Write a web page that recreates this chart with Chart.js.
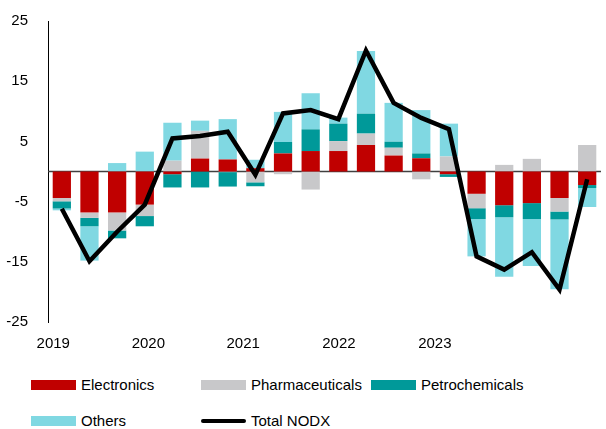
<!DOCTYPE html>
<html>
<head>
<meta charset="utf-8">
<script src="https://cdn.jsdelivr.net/npm/chart.js@4/dist/chart.umd.min.js"></script>
<style>
    body { margin: 0; background: #fff; font-family: "Liberation Sans", Arial, sans-serif; overflow: hidden; }
    #wrap { position: relative; width: 606px; height: 429px; overflow: hidden; }
    #box { position: absolute; left: 0; top: -8px; width: 606px; height: 368px; }
    .leg { position: absolute; font-size: 15px; color: #000; line-height: 18px; white-space: nowrap; }
    .leg i { position: absolute; left: 0; top: 4px; width: 45px; height: 10px; }
    .leg span { position: absolute; left: 50px; top: 0; }
</style>
</head>
<body>
<div id="wrap">
    <div id="box"><canvas id="chartNodx"></canvas></div>
    <div id="legenda"></div>
</div>
<script>
var quarters = ['2019Q1', '2019Q2', '2019Q3', '2019Q4', '2020Q1', '2020Q2', '2020Q3', '2020Q4',
    '2021Q1', '2021Q2', '2021Q3', '2021Q4', '2022Q1', '2022Q2', '2022Q3', '2022Q4',
    '2023Q1', '2023Q2', '2023Q3', '2023Q4'];
var electronics = [-4.4, -6.8, -6.8, -5.5, -0.45, 2.15, 2.0, 0.55, 3.0, 3.4, 3.4, 4.4, 2.65, 2.2, -0.45, -3.7, -5.6, -5.25, -4.4, -2.25];
var pharmaceuticals = [-0.55, -0.9, -3.0, -1.9, 1.8, 4.6, -0.1, -1.8, -0.45, -3.0, 1.65, 1.9, 1.3, -1.3, 2.5, -2.4, 1.1, 2.1, -2.25, 4.4];
var petrochemicals = [-1.2, -1.4, -1.3, -1.7, -2.2, -2.65, -2.4, -0.65, 1.9, 3.6, 2.9, 3.3, 1.0, 0.8, -0.45, -1.8, -2.0, -2.65, -1.3, -0.5];
var others = [-0.3, -5.7, 1.4, 3.3, 6.3, 1.7, 6.7, 1.4, 5.0, 6.0, 1.0, 10.4, 6.45, 7.2, 5.45, -6.2, -9.9, -7.8, -11.6, -3.15];
var totalNodx = [-6.2, -14.9, -10.0, -5.5, 5.5, 5.9, 6.6, -0.55, 9.65, 10.2, 8.7, 20.1, 11.4, 8.9, 7.05, -14.1, -16.3, -13.4, -19.6, -1.3];
var yearLabels = ['2019', '2020', '2021', '2022', '2023'];
var yearTickPos = [-0.31, 3.13, 6.56, 10.02, 13.49];
var yTicks = [-25, 25, 10];

var cores = {
    electronics: '#c00000',
    pharma: '#c8c8ca',
    petro: '#009999',
    others: '#80d8e2',
    total: '#000000'
};

// linha do zero
var zeroLine = {
    id: 'zeroLine',
    beforeDatasetsDraw: function (chart) {
        var y = chart.scales.y.getPixelForValue(0);
        var ctx = chart.ctx;
        ctx.save();
        ctx.strokeStyle = '#404040';
        ctx.lineWidth = 1.5;
        ctx.beginPath();
        ctx.moveTo(chart.chartArea.left, y);
        ctx.lineTo(chart.chartArea.right, y);
        ctx.stroke();
        ctx.restore();
    }
};

function barra(label, data, cor) {
    return {
        type: 'bar',
        label: label,
        data: data,
        backgroundColor: cor,
        borderWidth: 0,
        barPercentage: 0.66,
        categoryPercentage: 1,
        order: 1
    };
}

Chart.defaults.font.family = '"Liberation Sans", Arial, sans-serif';
Chart.defaults.font.size = 15;
Chart.defaults.color = '#000';

new Chart(document.getElementById('chartNodx'), {
    type: 'bar',
    data: {
        labels: quarters,
        datasets: [
            barra('Electronics', electronics, cores.electronics),
            barra('Pharmaceuticals', pharmaceuticals, cores.pharma),
            barra('Petrochemicals', petrochemicals, cores.petro),
            barra('Others', others, cores.others),
            {
                type: 'line',
                label: 'Total NODX',
                data: totalNodx,
                borderColor: cores.total,
                borderWidth: 4.5,
                pointRadius: 0,
                tension: 0,
                stack: 'total',
                order: 0
            }
        ]
    },
    options: {
        responsive: true,
        maintainAspectRatio: false,
        animation: false,
        layout: {
            padding: {top: 0, right: 5, left: 0, bottom: 0}
        },
        plugins: {
            legend: {display: false},
            tooltip: {enabled: false}
        },
        scales: {
            x: {
                stacked: true,
                display: false
            },
            x2: {
                type: 'linear',
                position: 'bottom',
                min: -0.5,
                max: quarters.length - 0.5,
                offset: false,
                bounds: 'data',
                grace: 0,
                grid: {display: false, offset: false},
                border: {display: false},
                afterBuildTicks: function (scale) {
                    scale.ticks = yearTickPos.map(function (v) {
                        return {value: v};
                    });
                },
                afterFit: function (scale) {
                    scale.height = 38;
                },
                ticks: {
                    autoSkip: false,
                    maxRotation: 0,
                    padding: 5,
                    callback: function (value, index) {
                        return yearLabels[index];
                    }
                }
            },
            y: {
                stacked: true,
                min: yTicks[0],
                max: yTicks[1],
                grid: {display: true, color: 'transparent', drawTicks: false},
                border: {display: true, color: '#000', width: 1},
                afterFit: function (scale) {
                    scale.width = 48;
                },
                ticks: {
                    stepSize: yTicks[2],
                    padding: 20
                }
            }
        }
    },
    plugins: [zeroLine]
});

// legenda em grade
var legendItems = [
    {label: 'Electronics', cor: cores.electronics, col: 0, row: 0},
    {label: 'Pharmaceuticals', cor: cores.pharma, col: 1, row: 0},
    {label: 'Petrochemicals', cor: cores.petro, col: 2, row: 0},
    {label: 'Others', cor: cores.others, col: 0, row: 1},
    {label: 'Total NODX', cor: cores.total, col: 1, row: 1, linha: true}
];
var html = '';
legendItems.forEach(function (item) {
    var left = 31 + item.col * 170;
    var top = 376 + item.row * 36;
    var marca = item.linha
        ? '<i style="background:' + item.cor + ';height:4px;top:7px;border-radius:2px"></i>'
        : '<i style="background:' + item.cor + '"></i>';
    html += '<div class="leg" style="left:' + left + 'px;top:' + top + 'px">' + marca +
        '<span>' + item.label + '</span></div>';
});
document.getElementById('legenda').innerHTML = html;
</script>
</body>
</html>
